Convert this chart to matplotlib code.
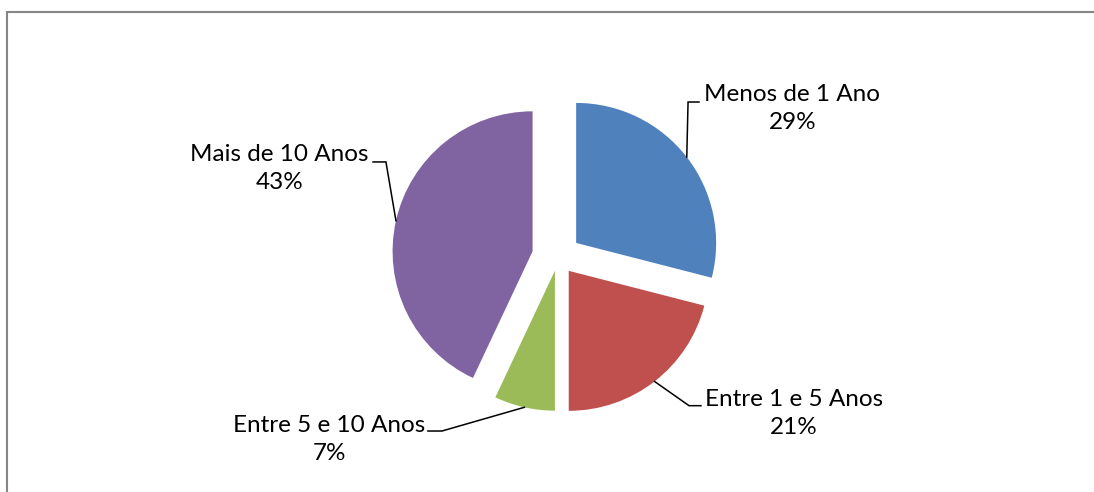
import matplotlib.pyplot as plt
import numpy as np

categories = ["Menos de 1 Ano", "Entre 1 e 5 Anos", "Entre 5 e 10 Anos", "Mais de 10 Anos"]
values = [29, 21, 7, 43]
colors = ["#4F81BD", "#C0504D", "#9BBB59", "#8064A2"]
explode = [0.164, 0.125, 0.10, 0.186]

# label layout (data units, 1 unit = pie radius): text centre, elbow x/y, line end x
label_pos = [(1.675, 1.06), (1.684, -1.12), (-1.634, -1.305), (-1.988, 0.632)]
elbow = [(0.929, 1.107, 1.007), (0.936, -1.062, 1.021), (-0.829, -1.243, -0.929), (-1.229, 0.679, -1.321)]

plt.rcParams['font.family'] = ['Lato', 'DejaVu Sans']

fig = plt.figure(figsize=(10.94, 4.92), dpi=100)
ax = fig.add_axes([0, 0, 1, 1])
ax.axis('off')

wedges, _ = ax.pie(values, colors=colors, explode=explode, startangle=90,
                   counterclock=False, radius=1.0)

ax.set_xlim(-558 / 140, (1094 - 558) / 140)
ax.set_ylim((257 - 492) / 140, 257 / 140)
ax.set_aspect('auto')

for w, name, v, pos, el in zip(wedges, categories, values, label_pos, elbow):
    mid = np.deg2rad((w.theta1 + w.theta2) / 2)
    cx, cy = w.center
    ax_x = cx + w.r * np.cos(mid)
    ax_y = cy + w.r * np.sin(mid)
    ax.plot([ax_x, el[0], el[2]], [ax_y, el[1], el[1]], color='black', lw=1.1,
            solid_joinstyle='miter')
    ax.text(pos[0], pos[1], f"{name}\n{v}%", ha='center', va='center',
            fontsize=17.5, linespacing=1.4, color='black')

fig.patches.append(plt.Rectangle((7 / 1094, -0.1), 1.2, 1 - 12 / 492 + 0.1,
                                 transform=fig.transFigure, fill=False,
                                 edgecolor='#868686', lw=1.5))

fig.savefig('out.png', dpi=100)
